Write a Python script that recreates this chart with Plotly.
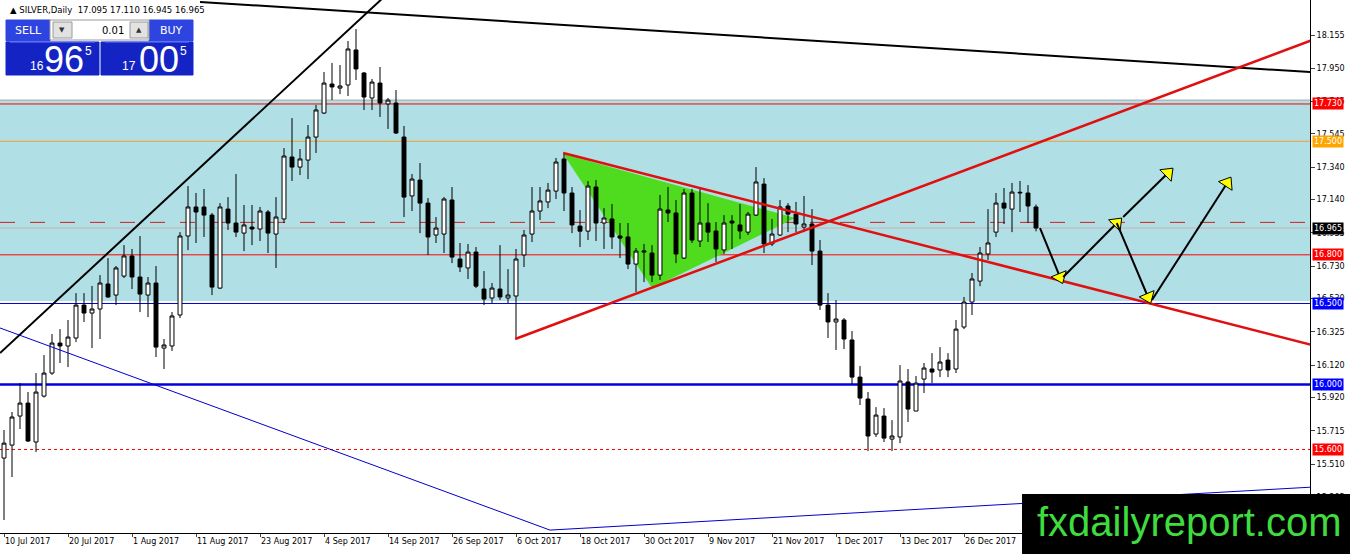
import plotly.graph_objects as go

# daily silver bars, 10 Jul 2017 onwards (bar index = trading day)
opens = [15.547, 15.627, 15.806, 15.886, 15.646, 15.929, 16.071, 16.256, 16.238, 16.287,
         16.490, 16.441, 16.466, 16.620, 16.552, 16.669, 16.793, 16.663, 16.552, 16.626,
         16.225, 16.238, 16.429, 16.916, 17.095, 17.095, 17.045, 16.595, 17.082, 16.996,
         16.934, 16.971, 16.959, 17.064, 16.928, 17.021, 17.403, 17.341, 17.384, 17.526,
         17.674, 17.853, 17.828, 17.847, 18.063, 17.921, 17.767, 17.859, 17.730, 17.736,
         17.526, 17.163, 17.261, 17.119, 16.922, 16.928, 17.138, 16.774, 16.719, 16.817,
         16.589, 16.534, 16.589, 16.534, 16.546, 16.799, 16.928, 17.070, 17.126, 17.193,
         17.391, 17.181, 16.977, 16.946, 17.218, 16.996, 17.021, 16.916, 16.910, 16.743,
         16.817, 16.811, 16.675, 17.076, 17.058, 16.780, 17.181, 16.885, 16.996, 16.947,
         16.830, 17.008, 16.984, 16.940, 17.045, 17.236, 16.867, 16.922, 17.101, 17.051,
         16.971, 16.990, 16.823, 16.490, 16.386, 16.398, 16.275, 16.046, 15.911, 15.695,
         15.806, 15.664, 15.677, 16.016, 15.837, 16.034, 16.096, 16.090, 16.151, 16.096,
         16.355, 16.509, 16.638, 16.805, 16.940, 17.119, 17.082, 17.181, 17.181, 17.095]
highs = [15.720, 15.831, 16.009, 15.954, 16.071, 16.182, 16.312, 16.342, 16.398, 16.564,
         16.564, 16.608, 16.675, 16.780, 16.731, 16.860, 16.836, 16.916, 16.663, 16.731,
         16.281, 16.447, 16.940, 17.224, 17.181, 17.206, 17.058, 17.119, 17.156, 17.298,
         17.107, 17.107, 17.095, 17.076, 17.156, 17.458, 17.643, 17.452, 17.600, 17.724,
         17.927, 17.983, 17.970, 18.118, 18.192, 17.927, 17.884, 17.958, 17.767, 17.816,
         17.594, 17.298, 17.366, 17.150, 17.033, 17.156, 17.218, 16.873, 16.867, 16.848,
         16.700, 16.626, 16.860, 16.712, 16.836, 16.953, 17.218, 17.218, 17.243, 17.397,
         17.428, 17.218, 17.076, 17.255, 17.261, 17.088, 17.113, 16.996, 16.996, 16.842,
         16.867, 16.860, 17.169, 17.218, 17.138, 17.206, 17.206, 17.218, 17.119, 17.002,
         17.045, 17.045, 17.113, 17.064, 17.341, 17.273, 17.021, 17.138, 17.119, 17.126,
         17.163, 17.082, 16.891, 16.564, 16.521, 16.410, 16.330, 16.114, 15.954, 15.861,
         15.855, 15.781, 16.120, 16.096, 16.053, 16.133, 16.194, 16.231, 16.194, 16.398,
         16.540, 16.688, 16.848, 17.082, 17.181, 17.212, 17.243, 17.255, 17.230, 17.110]
lows = [15.165, 15.430, 15.726, 15.646, 15.584, 15.920, 16.060, 16.133, 16.108, 16.262,
        16.386, 16.225, 16.281, 16.535, 16.490, 16.657, 16.589, 16.447, 16.416, 16.170,
        16.096, 16.207, 16.410, 16.829, 16.873, 16.910, 16.552, 16.590, 16.953, 16.910,
        16.823, 16.860, 16.885, 16.811, 16.719, 16.996, 17.255, 17.292, 17.267, 17.428,
        17.668, 17.754, 17.791, 17.779, 17.878, 17.693, 17.693, 17.650, 17.576, 17.545,
        17.033, 17.070, 16.934, 16.799, 16.873, 16.811, 16.749, 16.694, 16.651, 16.595,
        16.490, 16.503, 16.521, 16.503, 16.287, 16.725, 16.879, 17.015, 17.088, 17.144,
        17.070, 16.934, 16.848, 16.891, 16.885, 16.836, 16.836, 16.780, 16.712, 16.571,
        16.632, 16.632, 16.645, 17.002, 16.749, 16.774, 16.873, 16.848, 16.879, 16.756,
        16.805, 16.836, 16.897, 16.922, 17.039, 16.811, 16.854, 16.916, 16.940, 16.940,
        16.940, 16.737, 16.460, 16.287, 16.213, 16.219, 16.003, 15.874, 15.590, 15.677,
        15.646, 15.590, 15.639, 15.769, 15.837, 15.948, 16.009, 16.046, 16.046, 16.071,
        16.342, 16.429, 16.607, 16.768, 16.910, 16.990, 16.940, 17.064, 16.996, 16.945]
closes = [15.639, 15.800, 15.886, 15.652, 15.954, 16.071, 16.256, 16.238, 16.293, 16.490,
          16.441, 16.466, 16.626, 16.540, 16.719, 16.793, 16.663, 16.558, 16.626, 16.231,
          16.244, 16.423, 16.916, 17.095, 17.064, 17.045, 16.601, 17.095, 16.996, 16.940,
          16.984, 16.959, 17.070, 16.934, 17.033, 17.409, 17.341, 17.391, 17.526, 17.693,
          17.859, 17.835, 17.841, 18.069, 17.946, 17.773, 17.865, 17.736, 17.754, 17.551,
          17.156, 17.267, 17.119, 16.910, 16.965, 17.144, 16.786, 16.725, 16.817, 16.607,
          16.527, 16.595, 16.540, 16.552, 16.774, 16.922, 17.070, 17.132, 17.199, 17.372,
          17.181, 16.984, 16.946, 17.224, 16.996, 17.027, 16.910, 16.903, 16.743, 16.823,
          16.823, 16.675, 17.082, 17.058, 16.805, 17.181, 16.891, 16.996, 16.940, 16.836,
          16.996, 16.996, 16.947, 17.051, 17.249, 16.867, 16.928, 17.095, 17.051, 16.990,
          16.990, 16.823, 16.490, 16.386, 16.404, 16.281, 16.046, 15.917, 15.683, 15.812,
          15.670, 15.683, 16.022, 15.849, 16.009, 16.102, 16.077, 16.139, 16.090, 16.342,
          16.509, 16.651, 16.811, 16.873, 17.119, 17.088, 17.187, 17.185, 17.101, 16.965]

date_labels = ["10 Jul 2017", "20 Jul 2017", "1 Aug 2017", "11 Aug 2017", "23 Aug 2017",
               "4 Sep 2017", "14 Sep 2017", "26 Sep 2017", "6 Oct 2017", "18 Oct 2017",
               "30 Oct 2017", "9 Nov 2017", "21 Nov 2017", "1 Dec 2017", "13 Dec 2017",
               "26 Dec 2017"]
date_label_bars = [0, 8, 16, 24, 32, 40, 48, 56, 64, 72, 80, 88, 96, 104, 112, 120]

price_ticks = [18.155, 17.950, 17.745, 17.545, 17.340, 17.140, 16.935, 16.730,
               16.530, 16.325, 16.120, 15.920, 15.715, 15.510, 15.305]

# horizontal levels and their price boxes on the axis
level_prices = [17.730, 17.500, 16.965, 16.800, 16.500, 16.000, 15.600]
level_colors = ["#ff0000", "#ffa500", "#000000", "#ff0000", "#0000ff", "#0000ff", "#ff0000"]
zone_low, zone_high = 16.515, 17.754
dashed_level = 17.000

# drawn objects (bar index, price)
black_up = ([-0.5, 47.5], [16.194, 18.390])
black_down = ([24.5, 163.5], [18.359, 17.926])
blue_down = ([-0.5, 68.25], [16.349, 15.103])
blue_up = ([68.25, 163.5], [15.103, 15.368])
red_up = ([63.9, 163.5], [16.281, 18.124])
red_down = ([69.9, 163.5], [17.428, 16.244])
triangle = ([69.9, 81.0, 98.9], [17.421, 16.595, 17.027])
arrows = [((129.5, 132.0), (16.965, 16.663)),
          ((132.4, 139.1), (16.663, 16.996)),
          ((139.1, 143.0), (16.996, 16.540)),
          ((143.5, 152.9), (16.521, 17.243)),
          ((139.9, 145.5), (17.033, 17.304))]

W, H = 1310, 533  # plot area in pixels


def px(x):
    return x / W


def py(y):
    return 1 - y / H


fig = go.Figure()

fig.add_trace(go.Candlestick(
    x=list(range(len(opens))), open=opens, high=highs, low=lows, close=closes,
    increasing=dict(line=dict(color="black", width=1), fillcolor="white"),
    decreasing=dict(line=dict(color="black", width=1), fillcolor="black"),
    whiskerwidth=0,
))

for (xs, ys), col, w in [(black_up, "black", 2), (black_down, "black", 2),
                         (blue_down, "#0000cc", 1), (blue_up, "#0000cc", 1),
                         (red_up, "#e01010", 2.5), (red_down, "#e01010", 2.5)]:
    fig.add_trace(go.Scatter(x=xs, y=ys, mode="lines", line=dict(color=col, width=w),
                             hoverinfo="skip"))

for xs, ys in arrows:
    fig.add_trace(go.Scatter(
        x=list(xs), y=list(ys), mode="lines+markers",
        line=dict(color="black", width=2),
        marker=dict(symbol="triangle-up", angleref="previous", size=[0, 14],
                    opacity=[0, 1], color="#ffff00", line=dict(color="black", width=1)),
        hoverinfo="skip"))

tri_path = "M " + " L ".join(f"{x},{y}" for x, y in zip(*triangle)) + " Z"
shapes = [
    dict(type="rect", xref="paper", yref="y", x0=0, x1=1, y0=zone_low, y1=zone_high,
         fillcolor="#b0dfe5", line=dict(width=0), layer="below"),
    dict(type="line", xref="paper", yref="y", x0=0, x1=1, y0=zone_high, y1=zone_high,
         line=dict(color="#a8a8a8", width=1), layer="below"),
    dict(type="path", xref="x", yref="y", path=tri_path, fillcolor="#4fdc1f",
         line=dict(width=0), layer="below"),
    dict(type="line", xref="paper", yref="y", x0=0, x1=1, y0=dashed_level, y1=dashed_level,
         line=dict(color="#cc2020", width=1, dash="longdash"), layer="below"),
]
level_styles = [dict(color="#ff0000", width=1), dict(color="#f0a030", width=1),
                dict(color="#d0b0b0", width=1), dict(color="#ff0000", width=1),
                dict(color="#0000cc", width=1), dict(color="#0000dd", width=2.5),
                dict(color="#ff0000", width=1, dash="3px,3px")]
for p, st in zip(level_prices, level_styles):
    shapes.append(dict(type="line", xref="paper", yref="y", x0=0, x1=1, y0=p, y1=p,
                       line=st, layer="below"))

# trade panel
blue_head, blue_box = "#2e44e0", "#1424c4"
panel = [
    (6, 20, 50, 41, blue_head), (149, 20, 193, 41, blue_head),
    (6, 42, 99, 75, blue_box), (101, 42, 193, 75, blue_box),
    (50, 20, 149, 40, "#ffffff"), (53, 22, 72, 38, "#e2e2e2"), (130, 22, 148, 38, "#e2e2e2"),
]
for x0, y0, x1, y1, c in panel:
    edge = c if c in (blue_head, blue_box) else "#9a9a9a"
    shapes.append(dict(type="rect", xref="paper", yref="paper", x0=px(x0), x1=px(x1),
                       y0=py(y1), y1=py(y0), fillcolor=c, line=dict(color=edge, width=1),
                       layer="above"))
for x0, x1 in [(10, 95), (105, 189)]:
    shapes.append(dict(type="line", xref="paper", yref="paper", x0=px(x0), x1=px(x1),
                       y0=py(42), y1=py(42), line=dict(color="#6a7aff", width=1),
                       layer="above"))
# watermark box
shapes.append(dict(type="rect", xref="paper", yref="paper", x0=px(1022), x1=px(1350),
                   y0=py(554), y1=py(494), fillcolor="black", line=dict(width=0),
                   layer="above"))

ann = []
for p, c in zip(level_prices, level_colors):
    ann.append(dict(xref="paper", yref="y", x=1, y=p, xanchor="left", xshift=2,
                    text=f"{p:.3f}", showarrow=False, bgcolor=c, borderpad=1,
                    font=dict(family="DejaVu Sans", size=8, color="white")))


def txt(x, y, t, size, color="white", anchor="center", family="DejaVu Sans"):
    ann.append(dict(xref="paper", yref="paper", x=px(x), y=py(y), text=t,
                    xanchor=anchor, yanchor="middle", showarrow=False,
                    font=dict(family=family, size=size, color=color)))


txt(8, 10, "▲ SILVER,Daily  17.095 17.110 16.945 16.965", 8.5, "black", "left")
txt(28, 30, "SELL", 11)
txt(171, 30, "BUY", 11)
txt(62, 30, "▼", 7, "#333333")
txt(139, 30, "▲", 7, "#333333")
txt(126, 30, "0.01", 10, "black", "right")
txt(37, 66, "16", 12, family="Liberation Sans")
txt(64, 59, "96", 36, family="Liberation Sans")
txt(88, 51, "5", 12, family="Liberation Sans")
txt(129, 66, "17", 12, family="Liberation Sans")
txt(159, 59, "00", 36, family="Liberation Sans")
txt(183, 51, "5", 12, family="Liberation Sans")
txt(1189, 522, "fxdailyreport.com", 40, "#3fdc3f", family="Liberation Sans")

fig.update_layout(
    width=1350, height=554,
    margin=dict(l=0, r=40, t=0, b=21),
    paper_bgcolor="white", plot_bgcolor="white",
    showlegend=False,
    shapes=shapes, annotations=ann,
    xaxis=dict(range=[-0.5, 163.25], rangeslider=dict(visible=False), automargin=False,
               tickvals=date_label_bars, ticktext=date_labels,
               ticklabelposition="outside right", ticks="outside", ticklen=3,
               showgrid=False, zeroline=False, showline=True, mirror=True,
               linecolor="black", linewidth=1,
               tickfont=dict(family="DejaVu Sans", size=8, color="black")),
    yaxis=dict(range=[15.085, 18.371], side="right", tickvals=price_ticks, automargin=False,
               ticktext=[f"{v:.3f}" for v in price_ticks], ticks="outside", ticklen=4,
               showgrid=False, zeroline=False, showline=True, mirror=True,
               linecolor="black", linewidth=1,
               tickfont=dict(family="DejaVu Sans", size=8, color="black")),
)

# the page body has a default 8px margin; drop it so the chart fills the window
fig.write_html("out.html", config={"displayModeBar": False},
               post_script="document.body.style.margin='0';document.body.style.overflow='hidden';")
